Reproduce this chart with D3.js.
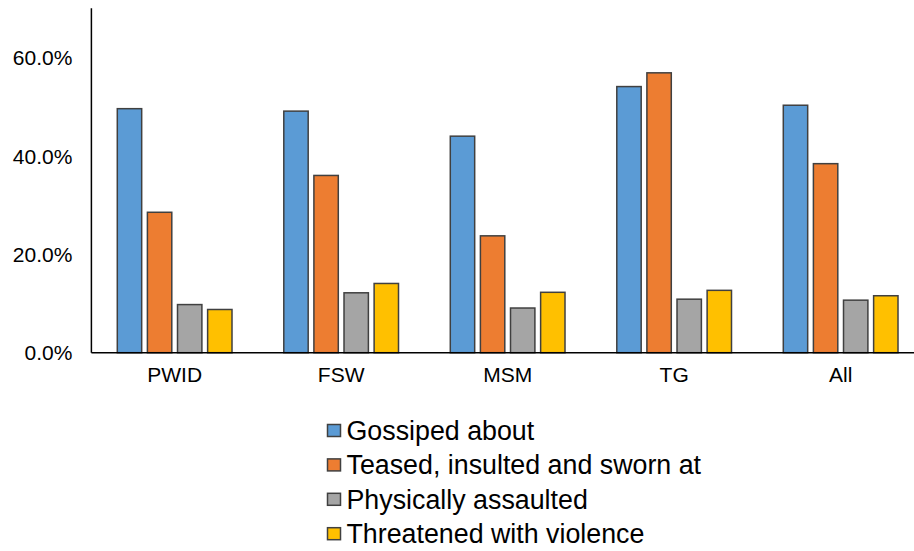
<!DOCTYPE html>
<html><head><meta charset="utf-8">
<script src="https://cdn.jsdelivr.net/npm/d3@7"></script>
<style>
html,body{margin:0;padding:0;background:#fff;overflow:hidden;}
svg{display:block;font-family:"Liberation Sans",Arial,sans-serif;}
</style></head>
<body><svg id="chart" width="914" height="551"></svg>
<script>
const categories = ["PWID","FSW","MSM","TG","All"];
const seriesNames = ["Gossiped about","Teased, insulted and sworn at","Physically assaulted","Threatened with violence"];
const gossiped   = [0.497, 0.492, 0.441, 0.542, 0.504];
const teased     = [0.286, 0.361, 0.238, 0.570, 0.385];
const physically = [0.098, 0.122, 0.091, 0.109, 0.107];
const threatened = [0.088, 0.141, 0.123, 0.127, 0.116];
const yTicks = [0, 0.2, 0.4, 0.6];
const colors = ["#5B9BD5","#ED7D31","#A5A5A5","#FFC000"];

const seriesValues = [gossiped, teased, physically, threatened];
const svg = d3.select("#chart");
const mLeft = 91.4, mBottom = 352.7, mTop = 9;
const band = 166.5;

const x0 = d3.scaleBand().domain(categories).range([mLeft, mLeft + band*categories.length]).padding(0);
const x1 = d3.scaleBand().domain(seriesNames).range([0, x0.bandwidth()]).paddingInner(0.19).paddingOuter(0.86);
const y = d3.scaleLinear().domain([0, 0.7]).range([mBottom, mTop]);

// bars
categories.forEach((c, ci) => {
  const g = svg.append("g").attr("transform", `translate(${x0(c)},0)`);
  seriesNames.forEach((s, si) => {
    const v = seriesValues[si][ci];
    g.append("rect")
      .attr("x", x1(s))
      .attr("y", y(v))
      .attr("width", x1.bandwidth())
      .attr("height", y(0) - y(v))
      .attr("fill", colors[si])
      .attr("stroke", "#404040")
      .attr("stroke-width", 1.5);
  });
});

// y axis
const yAxis = d3.axisLeft(y).tickValues(yTicks).tickSize(0).tickPadding(19)
  .tickFormat(d => (d*100).toFixed(1) + "%");
const ya = svg.append("g").attr("transform", `translate(${mLeft},0)`).call(yAxis);
ya.select(".domain").remove();
ya.selectAll("text").attr("font-size", 21).attr("fill", "#000")
  .attr("font-family", "'Liberation Sans', Arial, sans-serif");
svg.append("line").attr("x1", mLeft).attr("x2", mLeft).attr("y1", mTop - 0.7).attr("y2", mBottom)
  .attr("stroke", "#000").attr("stroke-width", 1.5);

// x axis
const xAxis = d3.axisBottom(x0).tickSize(0).tickPadding(14);
const xa = svg.append("g").attr("transform", `translate(0,${mBottom})`).call(xAxis);
xa.select(".domain").remove();
xa.selectAll("text").attr("font-size", 21).attr("fill", "#000")
  .attr("font-family", "'Liberation Sans', Arial, sans-serif");
svg.append("line").attr("x1", mLeft).attr("x2", 914).attr("y1", mBottom).attr("y2", mBottom)
  .attr("stroke", "#000").attr("stroke-width", 1.5);

// legend
const legend = svg.append("g");
seriesNames.forEach((s, i) => {
  const cy = 430.5 + i*34.4;
  legend.append("rect").attr("x", 327.5).attr("y", cy - 6).attr("width", 13).attr("height", 12)
    .attr("fill", colors[i]).attr("stroke", "#404040").attr("stroke-width", 1.5);
  legend.append("text").attr("x", 346.5).attr("y", cy).attr("dy", "0.35em")
    .attr("font-size", 26.8).attr("fill", "#000").text(s);
});
</script>
</body></html>
